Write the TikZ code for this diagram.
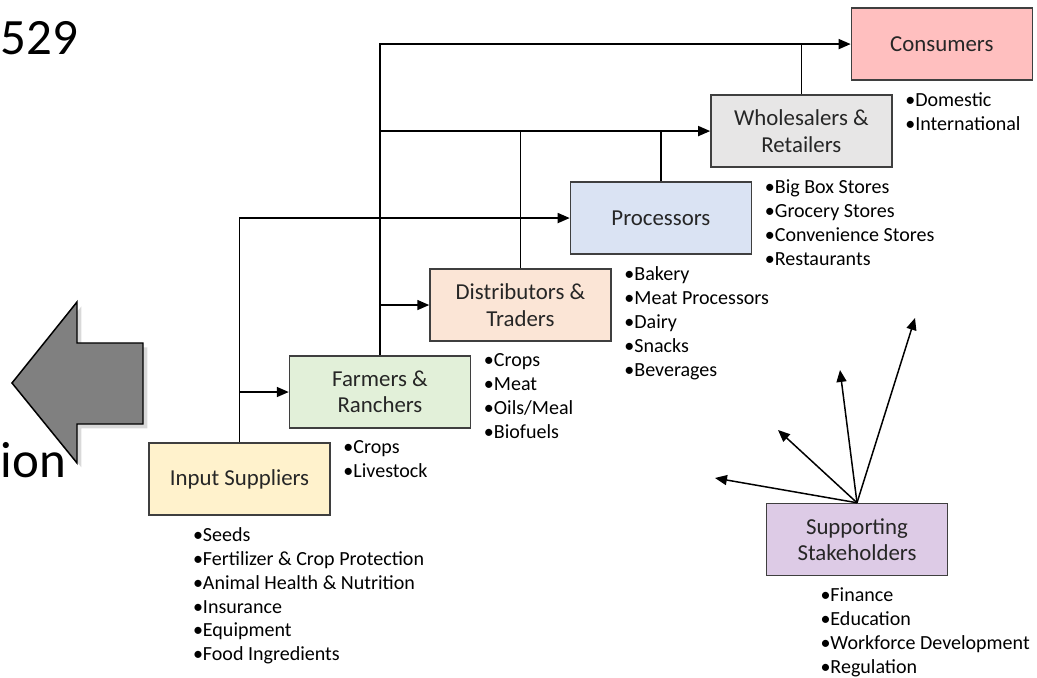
\documentclass[tikz,border=0pt]{standalone}
\usepackage{fontspec}
\setmainfont{Carlito}
\usepackage{xcolor}
\usepackage{tikz}
\usetikzlibrary{arrows.meta,positioning,shadows,calc}

\definecolor{inputc}{HTML}{FFF2CC}
\definecolor{farmc}{HTML}{E2F0D9}
\definecolor{distc}{HTML}{FBE5D6}
\definecolor{procc}{HTML}{DAE3F3}
\definecolor{wholec}{HTML}{E7E6E6}
\definecolor{consc}{HTML}{FFBFBF}
\definecolor{suppc}{HTML}{DDCBE6}
\definecolor{boxline}{HTML}{3F3F3F}
\definecolor{boxtext}{HTML}{262626}

\begin{document}
\begin{tikzpicture}[x=0.02cm,y=-0.02cm,>={Triangle[length=6.8pt,width=5.7pt]},line width=0.85pt,on grid,node distance=1.74cm and 2.81cm,
	box node/.style={draw=boxline, minimum width=3.62cm, minimum height=1.44cm, align=center, font=\fontsize{13}{15}\selectfont, text=boxtext, inner sep=1pt},
	list node/.style={anchor=north west, align=left, inner sep=0pt, font=\fontsize{11.4}{13.6}\selectfont},
	elbow/.style={to path={|- (\tikztotarget)}}]
			\useasboundingbox (0,0) rectangle (1037,678);
			
			\node[anchor=base west, inner sep=0pt, font=\fontsize{29}{32}\selectfont] (num) at (0,55) {529};
			\node[anchor=base west, inner sep=0pt, font=\fontsize{29}{32}\selectfont] (ion) at (0,477) {ion};
			\draw[fill=gray, draw=black, drop shadow={shadow xshift=2.5pt, shadow yshift=-2.5pt, opacity=.3}]
			(12,383) -- (77,302) -- (77,343) -- (143,343) -- (143,424) -- (77,424) -- (77,463) -- cycle;
			
			\node[box node, fill=inputc] (1) at (239.5,479) {Input Suppliers};
			\node[box node, fill=farmc] (2) [above right=of 1] {Farmers \&\\ Ranchers};
			\node[box node, fill=distc] (3) [above right=of 2] {Distributors \&\\ Traders};
			\node[box node, fill=procc] (4) [above right=of 3] {Processors};
			\node[box node, fill=wholec] (5) [above right=of 4] {Wholesalers \&\\ Retailers};
			\node[box node, fill=consc] (6) [above right=of 5] {Consumers};
			\node[box node, fill=suppc] (7) at (857,539.5) {Supporting\\ Stakeholders};
			
			\node[list node] (l1) at ([shift={(0.88cm,-0.22cm)}]1.south west) {\textbullet Seeds\\ \textbullet Fertilizer \& Crop Protection\\ \textbullet Animal Health \& Nutrition\\ \textbullet Insurance\\ \textbullet Equipment\\ \textbullet Food Ingredients};
			\node[list node] (l2) at ([shift={(1.08cm,-0.22cm)}]2.south west) {\textbullet Crops\\ \textbullet Livestock};
			\node[list node] (l3) at ([shift={(1.08cm,-0.22cm)}]3.south west) {\textbullet Crops\\ \textbullet Meat\\ \textbullet Oils/Meal\\ \textbullet Biofuels};
			\node[list node] (l4) at ([shift={(1.08cm,-0.22cm)}]4.south west) {\textbullet Bakery\\ \textbullet Meat Processors\\ \textbullet Dairy\\ \textbullet Snacks\\ \textbullet Beverages};
			\node[list node] (l5) at ([shift={(1.08cm,-0.22cm)}]5.south west) {\textbullet Big Box Stores\\ \textbullet Grocery Stores\\ \textbullet Convenience Stores\\ \textbullet Restaurants};
			\node[list node] (l6) at ([shift={(1.08cm,-0.22cm)}]6.south west) {\textbullet Domestic\\ \textbullet International};
			\node[list node] (l7) at ([shift={(1.08cm,-0.22cm)}]7.south west) {\textbullet Finance\\ \textbullet Education\\ \textbullet Workforce Development\\ \textbullet Regulation};
			
			\coordinate (s1) at (715,478);
			\coordinate (s2) at (778,430);
			\coordinate (s3) at (840,370);
			\coordinate (s4) at (915,318);
			
			\path[->]
			(1) edge [elbow] (4)
			(1.north |- 2) edge (2)
			
			(2) edge [elbow] (6)
			(2.north |- 3) edge (3)
			(2.north |- 5) edge (5)
			(3) edge [-] (3.north |- 5)
			(4) edge [-] (4.north |- 5)
			(5) edge [-] (5.north |- 6)
			
			(7.north) edge (s1)
			(7.north) edge (s2)
			(7.north) edge (s3)
			(7.north) edge (s4);
			
\end{tikzpicture}
\end{document}
